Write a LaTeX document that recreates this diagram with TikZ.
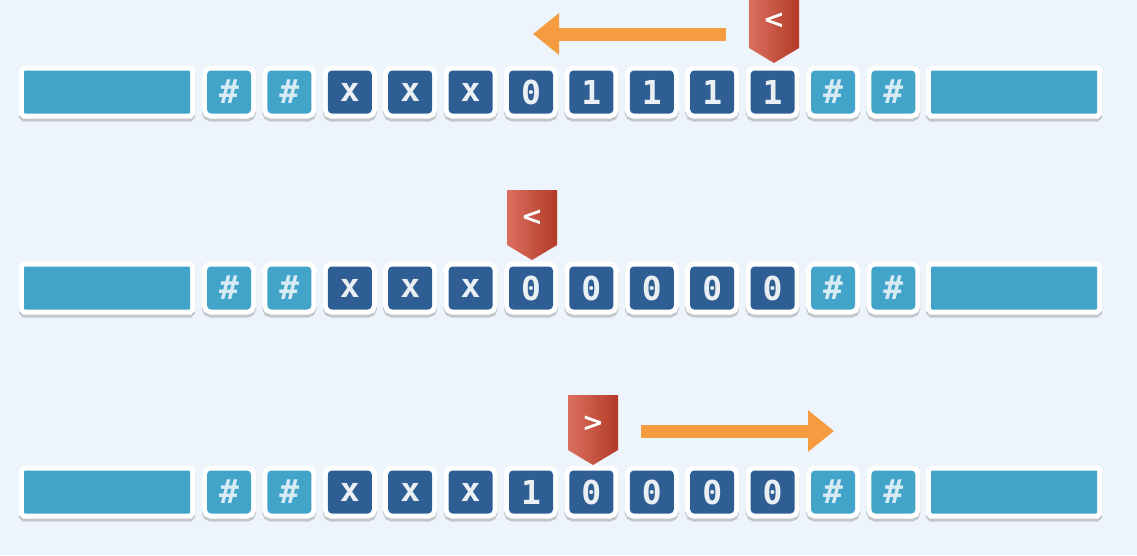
\documentclass[tikz,border=0pt]{standalone}
\usepackage{fontspec}
\setmonofont{DejaVu Sans Mono}
\setsansfont{DejaVu Sans}
\usepackage{tikz}
\usetikzlibrary{arrows.meta}
\definecolor{fond}{HTML}{EEF4FB}
\definecolor{bleuclair}{HTML}{43A4CA}
\definecolor{bleufonce}{HTML}{2F5E94}
\definecolor{orange}{HTML}{F59B40}
\definecolor{rouge}{HTML}{D24B36}
\definecolor{rougefonce}{HTML}{B23A27}
\tikzset{
	cadre/.style={rounded corners=4pt,inner sep=0pt,
		preaction={draw=black,opacity=0.18,line width=10pt,transform canvas={yshift=-3pt}},
		preaction={draw=white,line width=10pt}},
	cellule/.style={cadre,fill=bleufonce,minimum width=44pt,minimum height=43pt,
		text=white!90!bleufonce,font=\ttfamily\bfseries\fontsize{33}{33}\selectfont},
	diese/.style={cellule,fill=bleuclair,text=white!78!bleuclair},
	bande/.style={cadre,rounded corners=1pt,fill=bleuclair,minimum width=166pt,minimum height=43pt},
	symbole/.style={text=white,inner sep=0pt,font=\sffamily\bfseries\fontsize{26}{26}\selectfont},
	tete/.style={left color=rouge!80!white,middle color=rouge,right color=rougefonce},
	fleche/.style={draw=orange,line width=13pt,-{Triangle[length=26pt,width=40pt]}}
}
\begin{document}
\begin{tikzpicture}[x=1pt,y=-1pt]
	\fill[fond] (0,0) rectangle (1137,555); % le fond
	\useasboundingbox (0,0) rectangle (1137,555);
	% ruban 1
	\node[bande] (g1) at (107,92) {};
	\node[bande] (d1) at (1014,92) {};
	\foreach \i in {0,1,10,11} \node[diese] (c1-\i) at ({229+60.4*\i},92) {\#};
	\foreach \s [count=\i from 2] in {x,x,x,0,1,1,1,1} \node[cellule] (c1-\i) at ({229+60.4*\i},92) {\s};
	% ruban 2
	\node[bande] (g2) at (107,288) {};
	\node[bande] (d2) at (1014,288) {};
	\foreach \i in {0,1,10,11} \node[diese] (c2-\i) at ({229+60.4*\i},288) {\#};
	\foreach \s [count=\i from 2] in {x,x,x,0,0,0,0,0} \node[cellule] (c2-\i) at ({229+60.4*\i},288) {\s};
	% ruban 3
	\node[bande] (g3) at (107,492) {};
	\node[bande] (d3) at (1014,492) {};
	\foreach \i in {0,1,10,11} \node[diese] (c3-\i) at ({229+60.4*\i},492) {\#};
	\foreach \s [count=\i from 2] in {x,x,x,1,0,0,0,0} \node[cellule] (c3-\i) at ({229+60.4*\i},492) {\s};
	% les têtes de lecture
	\shade[tete] (749,-7) -- (799,-7) -- (799,48) -- (774,63) -- (749,48) -- cycle;
	\node[symbole] (t1) at (774,21) {<};
	\shade[tete] (507,190) -- (557,190) -- (557,245) -- (532,260) -- (507,245) -- cycle;
	\node[symbole] (t2) at (532,218) {<};
	\shade[tete] (568,395) -- (618,395) -- (618,450) -- (593,465) -- (568,450) -- cycle;
	\node[symbole] (t3) at (593,424) {>};
	% les déplacements
	\coordinate (a1) at (726,34);
	\coordinate (b1) at (533,34);
	\draw[fleche] (a1) -- (b1);
	\coordinate (a3) at (641,431);
	\coordinate (b3) at (834,431);
	\draw[fleche] (a3) -- (b3);
\end{tikzpicture}
\end{document}
